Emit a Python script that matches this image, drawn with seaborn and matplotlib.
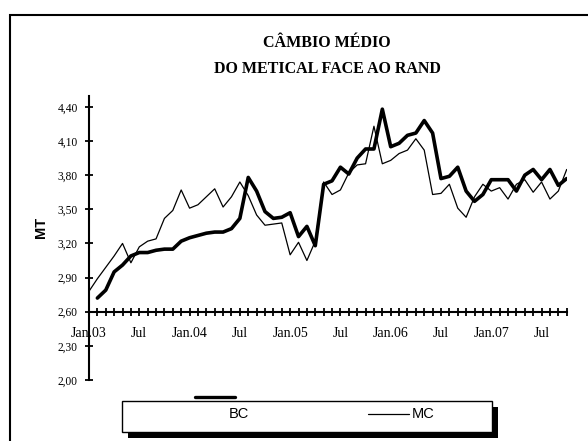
import numpy as np
import matplotlib
matplotlib.use("Agg")
import matplotlib.pyplot as plt
import seaborn as sns
from matplotlib.patches import Rectangle
from matplotlib.lines import Line2D

# average metical / rand rate, monthly from Jan.03 to Oct.07
# MC starts Jan.03, BC starts Feb.03
mc = [2.78, 2.89, 2.99, 3.09, 3.20, 3.03, 3.17, 3.22, 3.24, 3.42,
      3.49, 3.67, 3.51, 3.54, 3.61, 3.68, 3.52, 3.61, 3.74, 3.62,
      3.45, 3.36, 3.37, 3.38, 3.10, 3.21, 3.05, 3.22, 3.74, 3.63,
      3.67, 3.82, 3.89, 3.90, 4.23, 3.90, 3.93, 3.99, 4.02, 4.12,
      4.02, 3.63, 3.64, 3.72, 3.51, 3.43, 3.61, 3.72, 3.66, 3.69,
      3.59, 3.72, 3.76, 3.65, 3.74, 3.59, 3.66, 3.85]
bc = [2.72, 2.79, 2.95, 3.01, 3.09, 3.12, 3.12, 3.14, 3.15,
      3.15, 3.22, 3.25, 3.27, 3.29, 3.30, 3.30, 3.33, 3.42, 3.78,
      3.66, 3.48, 3.42, 3.43, 3.47, 3.26, 3.35, 3.18, 3.72, 3.75,
      3.87, 3.81, 3.95, 4.03, 4.03, 4.38, 4.05, 4.08, 4.15, 4.17,
      4.28, 4.17, 3.77, 3.79, 3.87, 3.66, 3.57, 3.63, 3.76, 3.76,
      3.76, 3.66, 3.80, 3.85, 3.76, 3.85, 3.71, 3.77]
month_labels = ["Jan.03", "Jul", "Jan.04", "Jul", "Jan.05", "Jul",
                "Jan.06", "Jul", "Jan.07", "Jul"]
y_ticks = [2.00, 2.30, 2.60, 2.90, 3.20, 3.50, 3.80, 4.10, 4.40]
series_names = ["BC", "MC"]
title_lines = ["CÂMBIO MÉDIO", "DO METICAL FACE AO RAND"]

sns.set_style("white")
plt.rcParams['font.family'] = ['Liberation Serif', 'DejaVu Serif']
plt.rcParams['text.color'] = 'black'
plt.rcParams['xtick.color'] = 'black'
plt.rcParams['ytick.color'] = 'black'

W, H = 588, 441
fig = plt.figure(figsize=(W / 100, H / 100), dpi=100)
ax = fig.add_axes([89 / W, 1 - 380 / H, (566.7 - 89) / W, (380 - 95.5) / H])

# the two series
months_mc = np.arange(len(mc))
months_bc = np.arange(1, len(bc) + 1)
sns.lineplot(x=months_mc, y=mc, ax=ax, color="black", lw=0.9)
sns.lineplot(x=months_bc, y=bc, ax=ax, color="black", lw=2.6)

ax.set_xlim(0, len(mc) - 1)
ax.set_ylim(2.0, 4.5)

# axes look
for s in ["top", "right"]:
    ax.spines[s].set_visible(False)
ax.spines["bottom"].set_position(("data", 2.6))
for s in ["left", "bottom"]:
    ax.spines[s].set_linewidth(1.5)
    ax.spines[s].set_color("black")

xt = list(range(len(mc)))
xl = [month_labels[i // 6] if i % 6 == 0 else "" for i in xt]
ax.set_xticks(xt)
ax.set_xticklabels(xl, fontsize=10)
ax.set_yticks(y_ticks)
ax.set_yticklabels([f"{v:.2f}".replace(".", ",") for v in y_ticks], fontsize=8.3)
ax.tick_params(axis="both", direction="inout", length=6, width=1.3, color="black",
               bottom=True, left=True)
ax.tick_params(axis="x", pad=8)
ax.tick_params(axis="y", pad=5)
ax.set_xlabel("")
ax.set_ylabel("")

# titles
fig.text(327 / W, 1 - 47 / H, title_lines[0], ha="center", va="baseline",
         fontsize=11.5, fontweight="bold")
fig.text(327 / W, 1 - 72.7 / H, title_lines[1], ha="center", va="baseline",
         fontsize=11.5, fontweight="bold")
fig.text(41 / W, 1 - 227 / H, "MT", rotation=90, ha="center", va="center",
         fontsize=10.5, fontweight="bold", family="Liberation Sans")

# outer frame (cut by the image edges)
fig.patches.append(Rectangle((10.3 / W, -0.1), 1.2, 1.1 - 15 / H, transform=fig.transFigure,
                             fill=False, lw=1.5, ec="black"))

# legend box with shadow
bx0, bx1, by0, by1 = 122, 492, 400.7, 432.3
fig.patches.append(Rectangle(((bx0 + 6) / W, 1 - (by1 + 6) / H), (bx1 - bx0) / W,
                             (by1 - by0) / H, transform=fig.transFigure,
                             fc="black", ec="black", lw=0))
fig.patches.append(Rectangle((bx0 / W, 1 - by1 / H), (bx1 - bx0) / W, (by1 - by0) / H,
                             transform=fig.transFigure, fc="white", ec="black", lw=1))
fig.text(239 / W, 1 - 414.5 / H, series_names[0], ha="center", va="center",
         fontsize=10.5, family="Liberation Sans")
fig.text(412 / W, 1 - 414.5 / H, series_names[1], ha="left", va="center",
         fontsize=10.5, family="Liberation Sans")
fig.lines.append(Line2D([367.5 / W, 408.7 / W], [1 - 414 / H, 1 - 414 / H],
                        transform=fig.transFigure, color="black", lw=0.9))
fig.lines.append(Line2D([195 / W, 235 / W], [1 - 396.7 / H, 1 - 396.7 / H],
                        transform=fig.transFigure, color="black", lw=2.4,
                        solid_capstyle="round"))

fig.savefig("out.png", dpi=100)
